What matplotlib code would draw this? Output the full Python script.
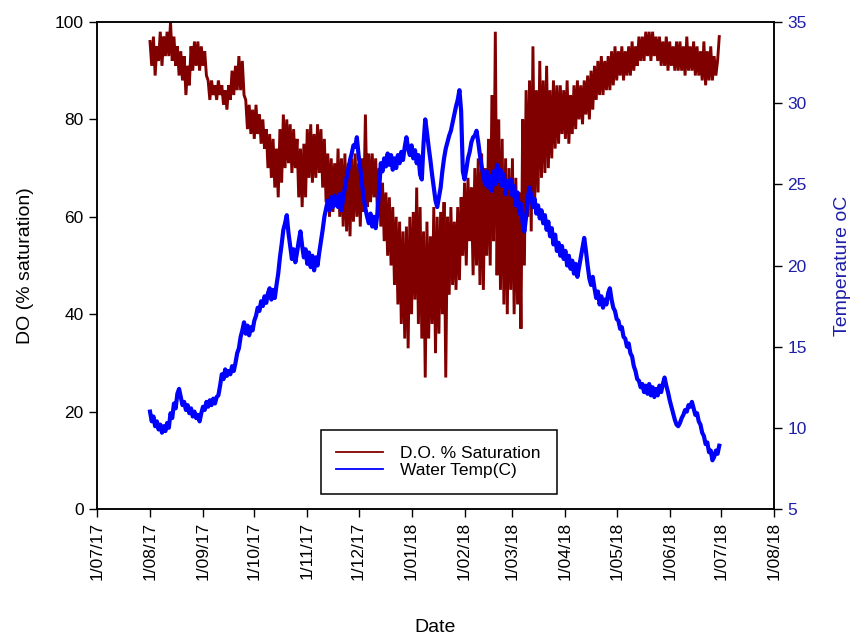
import numpy as np
import pandas as pd
import matplotlib
matplotlib.use("Agg")
import matplotlib.pyplot as plt
from matplotlib.lines import Line2D

plt.rcParams['font.family'] = ['Liberation Sans', 'DejaVu Sans']

# Daily logger readings from 1 Aug 2017 (alternating daily high / low)
do_sat = [
    96, 91, 97, 89, 95, 92, 98, 91, 97, 93,
    98, 93, 100, 92, 97, 91, 95, 89, 94, 88,
    93, 85, 91, 87, 95, 90, 96, 91, 96, 90,
    95, 91, 94, 89, 88, 84, 88, 85, 87, 84,
    88, 85, 87, 83, 86, 82, 87, 84, 90, 85,
    91, 86, 93, 86, 92, 85, 84, 78, 83, 77,
    82, 76, 83, 77, 81, 75, 80, 74, 78, 70,
    77, 68, 76, 66, 74, 64, 78, 67, 81, 70,
    80, 71, 79, 69, 78, 70, 76, 64, 74, 62,
    75, 64, 78, 68, 79, 67, 77, 68, 79, 69,
    78, 66, 76, 63, 73, 60, 72, 61, 71, 62,
    74, 60, 72, 58, 73, 57, 71, 56, 72, 59,
    73, 60, 71, 58, 72, 61, 81, 62, 73, 63,
    73, 64, 72, 61, 70, 58, 67, 55, 65, 52,
    64, 50, 62, 46, 60, 42, 59, 38, 57, 35,
    58, 33, 60, 40, 61, 43, 66, 38, 62, 35,
    57, 27, 59, 35, 56, 38, 62, 32, 60, 36,
    61, 40, 63, 27, 60, 44, 62, 46, 59, 45,
    62, 47, 64, 52, 67, 50, 68, 55, 66, 48,
    70, 50, 72, 46, 73, 45, 70, 52, 76, 50,
    85, 55, 98, 48, 80, 45, 76, 42, 72, 40,
    70, 45, 72, 40, 68, 42, 65, 37, 80, 50,
    86, 60, 88, 57, 95, 62, 86, 65, 92, 68,
    88, 69, 91, 70, 86, 72, 88, 74, 87, 75,
    87, 77, 86, 76, 88, 75, 85, 77, 87, 78,
    88, 80, 87, 79, 88, 81, 89, 80, 90, 82,
    91, 84, 92, 85, 93, 85, 92, 86, 93, 86,
    94, 87, 95, 88, 94, 89, 95, 88, 94, 89,
    95, 89, 96, 90, 95, 91, 97, 92, 97, 92,
    98, 93, 98, 92, 98, 93, 97, 92, 97, 91,
    96, 91, 97, 90, 96, 91, 95, 90, 96, 90,
    96, 90, 95, 89, 97, 90, 95, 90, 96, 89,
    95, 89, 94, 88, 96, 87, 94, 88, 95, 88,
    93, 89, 92, 97,
]

water_temp = [
    11.0, 10.4, 10.7, 10.1, 10.4, 9.9, 10.2, 9.7, 10.1, 9.8,
    10.3, 10.0, 10.9, 10.6, 11.5, 11.2, 12.1, 12.4, 11.9, 11.4,
    11.6, 11.1, 11.4, 10.9, 11.2, 10.7, 11.0, 10.6, 10.8, 10.4,
    10.9, 11.3, 11.1, 11.6, 11.3, 11.7, 11.4, 11.8, 11.5, 11.9,
    12.0, 12.6, 13.3, 13.0, 13.6, 13.2, 13.5, 13.3, 13.8, 13.5,
    14.0, 14.6, 14.9, 15.6, 16.0, 16.5, 15.8, 16.3, 15.7, 16.2,
    16.0, 16.6, 16.9, 17.4, 17.2, 17.8, 17.5, 18.1, 17.7, 18.3,
    18.6, 17.9, 18.5, 18.0, 18.8, 19.5, 20.5, 21.3, 22.2, 22.6,
    23.1, 22.0, 21.2, 20.4, 21.0, 20.2, 20.8, 21.5, 22.1, 21.2,
    20.5, 21.0, 20.1, 20.8, 19.9, 20.6, 19.7, 20.5, 20.0, 20.8,
    21.5, 22.2, 23.0, 23.5, 24.0, 23.4, 24.2, 23.6, 24.3, 23.8,
    23.6, 24.4, 23.4, 24.2, 24.8, 25.4, 25.9, 26.5, 26.9, 27.4,
    27.3, 27.9, 26.8, 26.0, 25.0, 24.2, 23.5, 23.0, 22.6, 23.2,
    22.4, 23.0, 22.3, 23.2, 24.6, 26.3, 25.8, 26.6, 26.1, 26.9,
    26.2, 26.8, 25.9, 26.6, 26.0, 26.8, 26.3, 27.0, 26.5, 27.3,
    27.9, 27.2, 26.8, 27.4, 26.6, 27.1, 26.3, 26.8, 25.6, 25.3,
    27.5, 29.0, 28.2, 27.3, 26.5, 25.6, 24.8, 24.0, 23.6, 24.2,
    24.8, 25.8, 26.6, 27.2, 27.6, 28.0, 28.3, 28.8, 29.3, 29.8,
    30.2, 30.8, 29.5, 25.8, 25.3, 25.9, 26.6, 27.0, 27.6, 27.9,
    28.0, 28.3, 27.6, 26.8, 26.1, 25.6, 25.0, 25.8, 24.8, 25.5,
    24.6, 25.8, 25.0, 26.2, 25.2, 25.9, 24.9, 25.6, 24.4, 25.2,
    24.8, 25.3, 24.3, 24.9, 23.7, 24.5, 23.2, 23.8, 22.6, 22.1,
    23.0, 24.2, 24.8, 24.3, 23.6, 24.1, 23.2, 23.7, 22.9, 23.4,
    22.6, 23.1, 22.2, 22.7, 21.8, 22.3, 21.3, 21.9, 20.9, 21.4,
    20.6, 21.2, 20.4, 20.9, 20.0, 20.6, 19.8, 20.3, 19.5, 20.1,
    19.3, 19.9, 20.5, 21.1, 21.7, 20.9, 20.0, 19.2, 18.8, 19.3,
    18.6, 18.0, 18.4, 17.6, 18.1, 17.4, 17.9, 17.6, 18.3, 18.6,
    17.9, 17.4, 17.2, 16.7, 16.6, 16.1, 16.2, 15.6, 15.5, 15.0,
    15.2, 14.6, 14.4, 13.8, 13.5, 13.0, 12.9, 12.5, 12.7, 12.2,
    12.6, 12.1, 12.7, 12.0, 12.5, 11.9, 12.4, 12.0, 12.6, 12.2,
    12.7, 13.1, 12.6, 12.2, 11.7, 11.3, 10.9, 10.5, 10.2, 10.1,
    10.3, 10.6, 10.8, 11.1, 11.0, 11.4, 11.3, 11.6, 11.2, 10.8,
    10.9, 10.4, 10.2, 9.7, 9.5, 9.0, 9.1, 8.5, 8.6, 8.0,
    8.2, 8.6, 8.4, 8.9,
]

dates = pd.date_range("2017-08-01", periods=len(do_sat), freq="D")

month_ticks = pd.date_range("2017-07-01", "2018-08-01", freq="MS")
month_labels = ["1/07/17", "1/08/17", "1/09/17", "1/10/17", "1/11/17", "1/12/17",
                "1/01/18", "1/02/18", "1/03/18", "1/04/18", "1/05/18", "1/06/18",
                "1/07/18", "1/08/18"]

do_color = "#800000"
temp_color = "#0000ff"
label_blue = "#1f1fa8"

fig = plt.figure(figsize=(8.54, 6.41), dpi=100)
ax1 = fig.add_axes([0.1136, 0.2059, 0.7927, 0.7598])
ax2 = ax1.twinx()

ax1.plot(dates, do_sat, color=do_color, lw=2.1, solid_joinstyle="miter")
ax2.plot(dates, water_temp, color=temp_color, lw=3.0)

ax1.set_xlim(month_ticks[0], month_ticks[-1])
ax1.set_ylim(0, 100)
ax2.set_ylim(5, 35)
ax1.set_yticks(np.arange(0, 101, 20))
ax2.set_yticks(np.arange(5, 36, 5))
ax1.set_xticks(month_ticks)
ax1.set_xticklabels(month_labels, rotation=90)

ax1.tick_params(axis="both", direction="out", length=6, width=1, labelsize=12.5)
ax2.tick_params(axis="y", direction="out", length=6, width=1, labelsize=12.5,
                labelcolor=label_blue)
for ax in (ax1, ax2):
    for s in ax.spines.values():
        s.set_linewidth(1.1)

ax1.set_xlabel("Date", fontsize=14, labelpad=28)
ax1.set_ylabel("DO (% saturation)", fontsize=14, labelpad=15)
ax2.set_ylabel("Temperature oC", fontsize=14, color=label_blue, labelpad=20)

# thin legend keys, independent of the plotted line widths
keys = [Line2D([], [], color=do_color, lw=1.3), Line2D([], [], color=temp_color, lw=1.3)]
leg = ax2.legend(keys, ["D.O. % Saturation", "Water Temp(C)"], loc="center",
                 bbox_to_anchor=(0.5045, 0.0965), fontsize=12.5, frameon=True,
                 fancybox=False, edgecolor="black", framealpha=1,
                 handlelength=2.7, handletextpad=1.0, labelspacing=0.15,
                 borderpad=0.9)
leg.get_frame().set_linewidth(1.1)

fig.savefig("out.png", dpi=100)
